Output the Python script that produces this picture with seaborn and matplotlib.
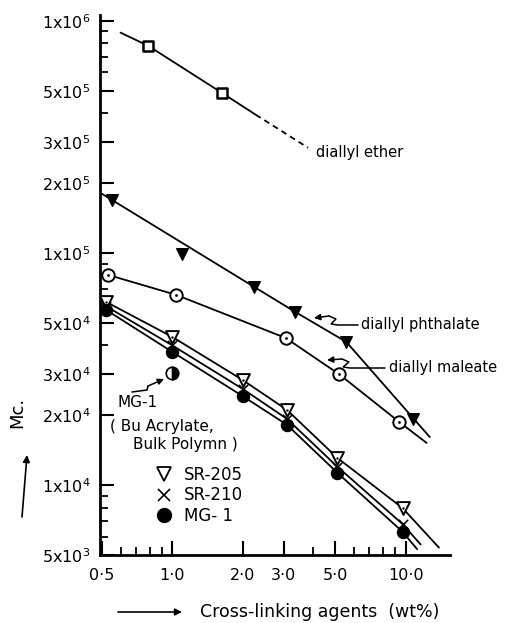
import numpy as np
import pandas as pd
import matplotlib
matplotlib.use("Agg")
import matplotlib.pyplot as plt
import seaborn as sns
from matplotlib.lines import Line2D
from matplotlib.ticker import FixedLocator, FixedFormatter, NullFormatter

# ---------------- data ----------------
ether_x = [0.79, 1.63]
ether_y = [7.8e5, 4.9e5]
ether_line_x = [0.60, 0.79, 1.63, 2.28]
ether_line_y = [8.9e5, 7.8e5, 4.9e5, 3.94e5]
ether_dash_x = [2.28, 3.82]
ether_dash_y = [3.94e5, 2.84e5]

phth_x = [0.55, 1.10, 2.24, 3.36, 5.57, 10.8]
phth_y = [1.70e5, 9.9e4, 7.15e4, 5.58e4, 4.14e4, 1.93e4]
phth_line_x = [0.49, 2.24, 3.36, 5.57, 12.7]
phth_line_y = [1.82e5, 7.15e4, 5.58e4, 4.14e4, 1.61e4]

male_x = [0.53, 1.04, 3.07, 5.2, 9.4]
male_y = [8.05e4, 6.6e4, 4.3e4, 3.0e4, 1.87e4]
male_line_x = [0.53, 1.04, 3.07, 5.2, 9.4, 12.3]
male_line_y = [8.05e4, 6.6e4, 4.3e4, 3.0e4, 1.87e4, 1.52e4]

low_x = [0.52, 1.0, 2.0, 3.1, 5.1, 9.7]
sr205_y = [6.16e4, 4.35e4, 2.84e4, 2.11e4, 1.31e4, 7.97e3]
sr210_y = [5.9e4, 4.0e4, 2.6e4, 1.93e4, 1.2e4, 6.8e3]
mg1_y = [5.69e4, 3.75e4, 2.42e4, 1.82e4, 1.13e4, 6.3e3]
sr205_end = (13.9, 5.38e3)
sr210_end = (11.6, 5.55e3)
mg1_end = (11.2, 5.3e3)

bulk_x = [1.0]
bulk_y = [3.05e4]

x_ticks = [0.5, 1.0, 2.0, 3.0, 5.0, 10.0]
x_tick_labels = ["0·5", "1·0", "2·0", "3·0", "5·0", "10·0"]
x_minor = [0.6, 0.7, 0.8, 0.9, 4.0, 6.0, 7.0, 8.0, 9.0]
y_ticks = [5e3, 1e4, 2e4, 3e4, 5e4, 1e5, 2e5, 3e5, 5e5, 1e6]
y_tick_labels = ["5x10$^{3}$", "1x10$^{4}$", "2x10$^{4}$", "3x10$^{4}$", "5x10$^{4}$",
                 "1x10$^{5}$", "2x10$^{5}$", "3x10$^{5}$", "5x10$^{5}$", "1x10$^{6}$"]
y_minor = [6e3, 7e3, 8e3, 9e3, 4e4, 6e4, 7e4, 8e4, 9e4, 4e5, 6e5, 7e5, 8e5, 9e5]

# ---------------- style ----------------
sns.set_style("ticks")
plt.rcParams["font.family"] = ["DejaVu Sans"]
plt.rcParams["mathtext.fontset"] = "dejavusans"
for k in ["text.color", "axes.labelcolor", "xtick.color", "ytick.color", "axes.edgecolor"]:
    plt.rcParams[k] = "black"

fig = plt.figure(figsize=(5.06, 6.23), dpi=100)
ax = fig.add_axes([100/506, 1-555/623, 350/506, 540/623])
ax.set_xscale("log")
ax.set_yscale("log")
ax.set_xlim(0.49, 15.5)
ax.set_ylim(5e3, 1.06e6)

LW = 1.3
K = "black"

def line(xs, ys, **kw):
    df = pd.DataFrame({"x": xs, "y": ys})
    sns.lineplot(data=df, x="x", y="y", ax=ax, color=K, lw=LW, sort=False,
                 estimator=None, **kw)

def pts(xs, ys, marker, s, face="white", lw=1.4, z=3):
    df = pd.DataFrame({"x": xs, "y": ys})
    sns.scatterplot(data=df, x="x", y="y", ax=ax, marker=marker, s=s,
                    facecolor=face, edgecolor=K, linewidth=lw, zorder=z)

# diallyl ether
line(ether_line_x, ether_line_y)
line(ether_dash_x, ether_dash_y, linestyle=(0, (3.2, 2.4)))
pts(ether_x, ether_y, "s", 42, lw=1.8)

# diallyl phthalate
line(phth_line_x, phth_line_y)
pts(phth_x, phth_y, "v", 70, face=K, lw=1.0)

# diallyl maleate
line(male_line_x, male_line_y)
pts(male_x, male_y, "o", 80, lw=1.4)
pts(male_x, male_y, "o", 4, face=K, lw=0, z=4)

# lower group
line(low_x + [sr205_end[0]], sr205_y + [sr205_end[1]])
line(low_x + [sr210_end[0]], sr210_y + [sr210_end[1]])
line(low_x + [mg1_end[0]], mg1_y + [mg1_end[1]])
pts(low_x, sr210_y, "x", 45, face=K, lw=1.2)
pts(low_x, sr205_y, "v", 85, lw=1.4)
pts(low_x, sr205_y, "o", 3, face=K, lw=0, z=4)
pts(low_x, mg1_y, "o", 75, face=K, lw=1.0)

# MG-1 bulk polymerisation point (half filled)
ax.plot(bulk_x, bulk_y, linestyle="none", marker="o", markersize=9,
        fillstyle="right", markerfacecolor=K, markerfacecoloralt="white",
        markeredgecolor=K, markeredgewidth=1.2, zorder=4)

# ---------------- axes ----------------
ax.xaxis.set_major_locator(FixedLocator(x_ticks))
ax.xaxis.set_major_formatter(FixedFormatter(x_tick_labels))
ax.xaxis.set_minor_locator(FixedLocator(x_minor))
ax.xaxis.set_minor_formatter(NullFormatter())
ax.yaxis.set_major_locator(FixedLocator(y_ticks))
ax.yaxis.set_major_formatter(FixedFormatter(y_tick_labels))
ax.yaxis.set_minor_locator(FixedLocator(y_minor))
ax.yaxis.set_minor_formatter(NullFormatter())

ax.tick_params(which="both", bottom=True, left=True, top=False, right=False)
ax.tick_params(which="major", direction="in", length=10, width=1.5,
               labelsize=11.5, colors=K)
ax.tick_params(axis="x", which="major", pad=9)
ax.tick_params(axis="y", which="major", pad=7)
ax.tick_params(which="minor", direction="in", length=6, width=1.3, colors=K)
ax.set_xlabel("")
ax.set_ylabel("")
for side in ["top", "right"]:
    ax.spines[side].set_visible(False)
for side in ["left", "bottom"]:
    ax.spines[side].set_linewidth(2.0)
    ax.spines[side].set_color(K)

# ---------------- annotations ----------------
fs = 10.5
ax.text(4.13, 2.7e5, "diallyl ether", fontsize=fs, ha="left", va="center")
ax.text(6.46, 4.9e4, "diallyl phthalate", fontsize=fs, ha="left", va="center")
ax.text(8.45, 3.2e4, "diallyl maleate", fontsize=fs, ha="left", va="center")
ax.text(0.713, 2.28e4, "MG-1", fontsize=11, ha="center", va="center")
ax.text(0.905, 1.78e4, "( Bu Acrylate,", fontsize=11, ha="center", va="center")
ax.text(1.14, 1.49e4, "Bulk Polymn )", fontsize=11, ha="center", va="center")

H = 623
def px2data(pts_px):
    disp = [(x, H - y) for x, y in pts_px]
    return ax.transData.inverted().transform(disp)

def zigzag(vertices_px):
    d = px2data(vertices_px)
    ax.plot(d[1:, 0], d[1:, 1], color=K, lw=1.1, solid_joinstyle="miter")
    ax.annotate("", xy=d[0], xytext=d[1],
                arrowprops=dict(arrowstyle="-|>", color=K, lw=1.1,
                                mutation_scale=9, shrinkA=0, shrinkB=0))

zigzag([(314, 318), (329, 316), (336, 319), (331, 324), (338, 325), (358, 325)])
zigzag([(327, 360), (342, 359), (349, 362), (343, 367), (350, 368), (385, 368)])
zigzag([(164, 379), (148, 386), (147, 390), (132, 392)])

# legend
handles = [
    Line2D([], [], linestyle="none", marker="v", markersize=10, markerfacecolor="white",
           markeredgecolor=K, markeredgewidth=1.3),
    Line2D([], [], linestyle="none", marker="x", markersize=9, markeredgecolor=K,
           markeredgewidth=1.2),
    Line2D([], [], linestyle="none", marker="o", markersize=10, markerfacecolor=K,
           markeredgecolor=K),
]
ax.legend(handles, ["SR-205", "SR-210", "MG- 1"], loc="upper left",
          bbox_to_anchor=(154/506, 1-466/623), bbox_transform=fig.transFigure,
          frameon=False, fontsize=12, handlelength=1.2, handletextpad=0.6,
          labelspacing=0.15, borderpad=0, borderaxespad=0)

# axis labels with arrows
fig.text(17/506, 1-412/623, "Mc.", rotation=90, fontsize=13, ha="center", va="center")
ax.annotate("", xy=(27, H-455), xytext=(22, H-517), xycoords="figure pixels",
            textcoords="figure pixels",
            arrowprops=dict(arrowstyle="-|>", color=K, lw=1.2, mutation_scale=10,
                            shrinkA=0, shrinkB=0))
fig.text(200/506, 1-612/623, "Cross-linking agents  (wt%)", fontsize=12.5,
         ha="left", va="center")
ax.annotate("", xy=(182, H-612), xytext=(118, H-612), xycoords="figure pixels",
            textcoords="figure pixels",
            arrowprops=dict(arrowstyle="-|>", color=K, lw=1.2, mutation_scale=10,
                            shrinkA=0, shrinkB=0))

fig.savefig("out.png", dpi=100, facecolor="white")
